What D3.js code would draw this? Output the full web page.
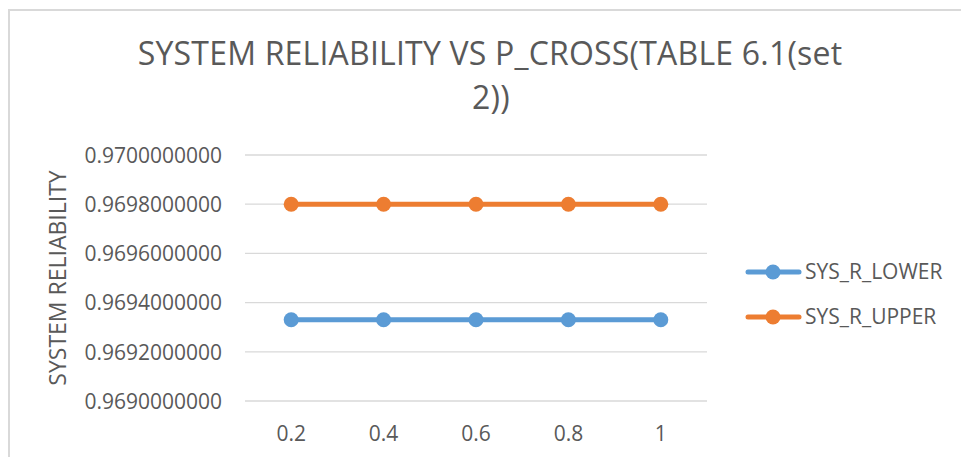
<!DOCTYPE html>
<html><head><meta charset="utf-8">
<script src="https://cdn.jsdelivr.net/npm/d3@7"></script>
<style>body{margin:0;background:#fff}svg{display:block}</style>
</head><body>
<script>
const categories = ["0.2","0.4","0.6","0.8","1"];
const sysRLower = [0.96933,0.96933,0.96933,0.96933,0.96933];
const sysRUpper = [0.9698,0.9698,0.9698,0.9698,0.9698];
const seriesNames = ["SYS_R_LOWER","SYS_R_UPPER"];
const seriesColors = ["#5b9bd5","#ed7d31"];
const yTicks = [0.969,0.9692,0.9694,0.9696,0.9698,0.97];

const W=961,H=457;
const svg=d3.select("body").append("svg").attr("width",W).attr("height",H);
svg.append("rect").attr("width",W).attr("height",H).attr("fill","#fff");
// border
svg.append("path").attr("d","M9,457 V10 H961").attr("fill","none").attr("stroke","#d9d9d9").attr("stroke-width",2);

const font="'Open Sans',sans-serif";
const textColor="#595959";

const title=svg.append("text").attr("text-anchor","middle").attr("fill",textColor)
  .style("font-family",font).style("font-size","32px").style("letter-spacing","0.2px");
title.append("tspan").attr("x",490).attr("y",65).text("SYSTEM RELIABILITY VS P_CROSS(TABLE 6.1(set");
title.append("tspan").attr("x",491).attr("y",109).text("2))");

const x=d3.scaleBand().domain(categories).range([245,707]);
const y=d3.scaleLinear().domain([0.969,0.97]).range([401,155]);

// gridlines
svg.append("g").selectAll("line").data(yTicks).join("line")
  .attr("x1",245).attr("x2",707).attr("y1",d=>y(d)).attr("y2",d=>y(d))
  .attr("stroke","#d9d9d9").attr("stroke-width",1.3);

// y axis labels
const yAxis=d3.axisLeft(y).tickValues(yTicks).tickFormat(d3.format(".10f")).tickSize(0).tickPadding(0);
const gy=svg.append("g").attr("transform","translate(222,0)").call(yAxis);
gy.select(".domain").remove();
gy.selectAll("text").attr("fill",textColor).style("font-family",font).style("font-size","21px").attr("dy","0.35em");

// x axis labels
const xAxis=d3.axisBottom(x).tickSize(0).tickPadding(0);
const gx=svg.append("g").attr("transform","translate(0,434)").call(xAxis);
gx.select(".domain").remove();
gx.selectAll("text").attr("fill",textColor).style("font-family",font).style("font-size","21px").attr("dy","0.35em");

// y axis title
svg.append("text").attr("transform","translate(58,278) rotate(-90)").attr("text-anchor","middle")
  .attr("fill",textColor).style("font-family",font).style("font-size","23px").attr("dy","0.35em").text("SYSTEM RELIABILITY");

const series=[sysRLower,sysRUpper];
const line=d3.line().x((d,i)=>x(categories[i])+x.bandwidth()/2).y(d=>y(d));
series.forEach((s,k)=>{
  const g=svg.append("g");
  g.append("path").datum(s).attr("d",line).attr("fill","none").attr("stroke",seriesColors[k]).attr("stroke-width",5).attr("stroke-linecap","round");
  g.selectAll("circle").data(s).join("circle")
    .attr("cx",(d,i)=>x(categories[i])+x.bandwidth()/2).attr("cy",d=>y(d)).attr("r",7.5).attr("fill",seriesColors[k]);
});

// legend
const legY=[272,317];
seriesNames.forEach((n,k)=>{
  const g=svg.append("g");
  g.append("line").attr("x1",748).attr("x2",799).attr("y1",legY[k]).attr("y2",legY[k]).attr("stroke",seriesColors[k]).attr("stroke-width",5).attr("stroke-linecap","round");
  g.append("circle").attr("cx",773).attr("cy",legY[k]).attr("r",7.5).attr("fill",seriesColors[k]);
  g.append("text").attr("x",805).attr("y",legY[k]).attr("dy","0.35em").attr("fill",textColor)
   .style("font-family",font).style("font-size","21px").text(n);
});
</script>
</body></html>
